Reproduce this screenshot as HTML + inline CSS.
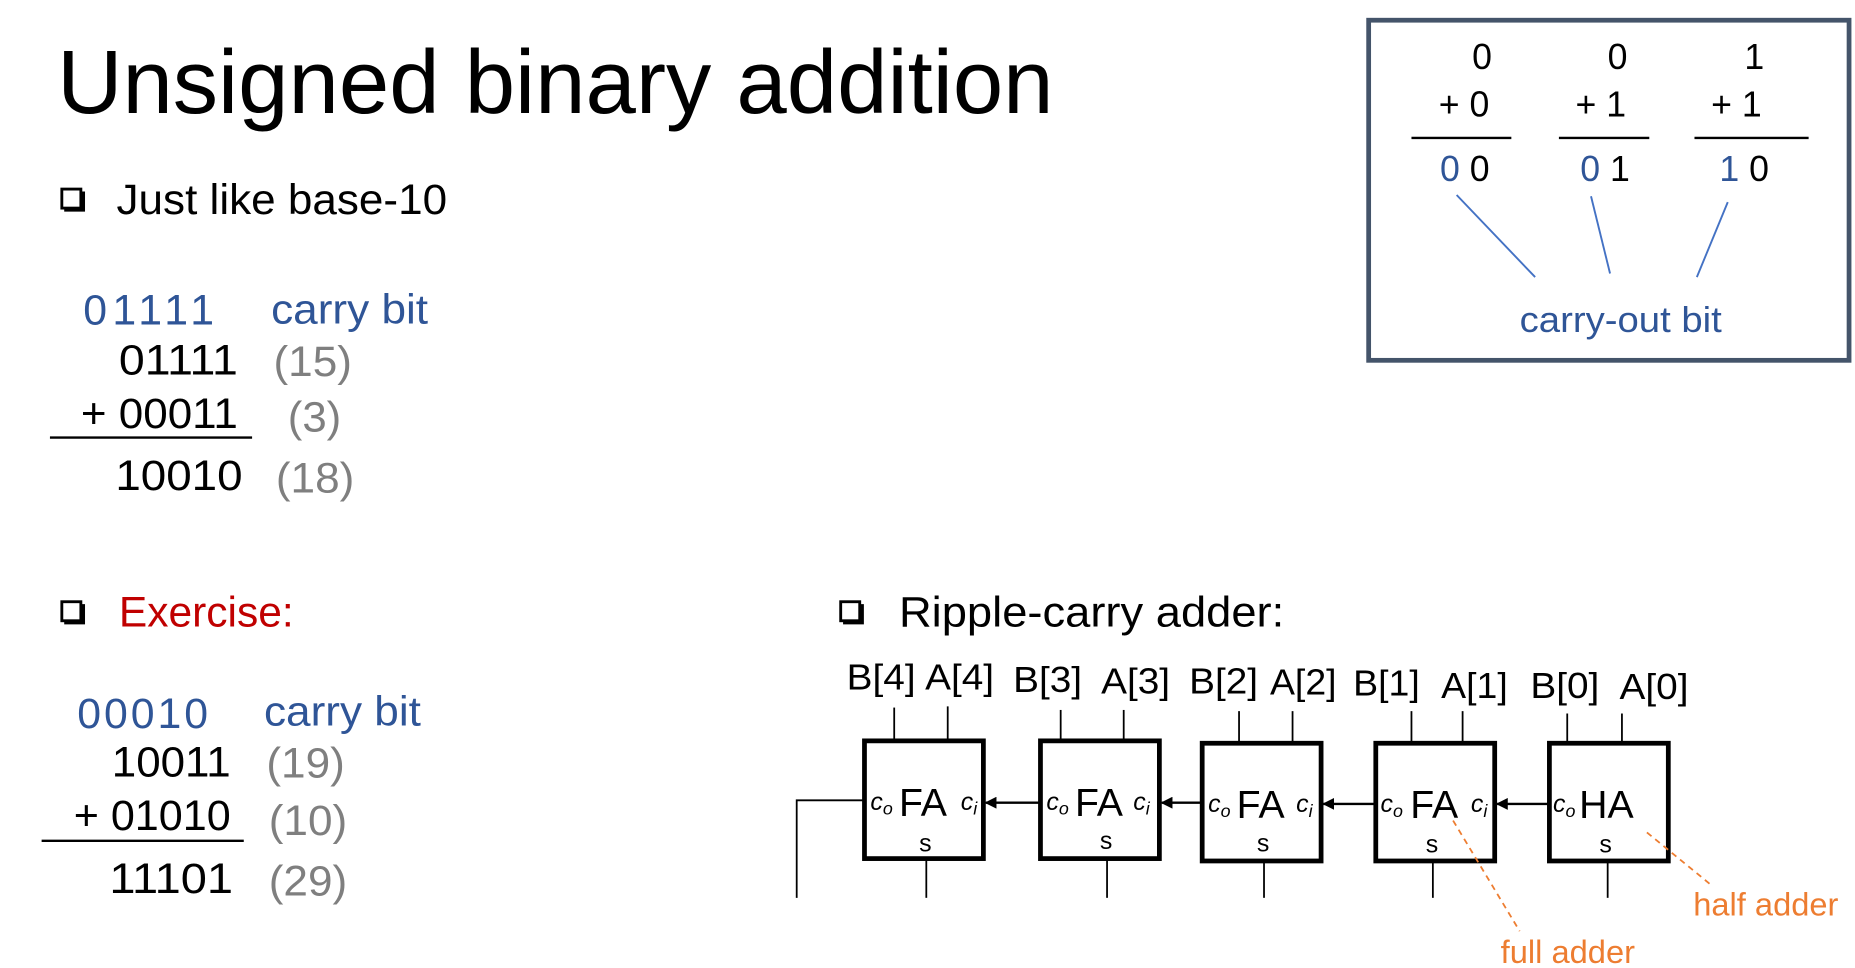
<!DOCTYPE html>
<html><head><meta charset="utf-8"><style>
html,body{margin:0;padding:0;background:#fff;width:1855px;height:968px;overflow:hidden}
svg{display:block}
text{font-family:"Liberation Sans",sans-serif}
.b{fill:#2f5597}.g{fill:#7f7f7f}.o{fill:#ed7d31}
</style></head><body>
<svg width="1855" height="968" viewBox="0 0 1560 814" preserveAspectRatio="none" xmlns="http://www.w3.org/2000/svg">
<defs>
<g id="bul"><rect x="1" y="1" width="16" height="16" fill="none" stroke="#000" stroke-width="2.4"/><path d="M3 18.5H19V3" fill="none" stroke="#000" stroke-width="3"/></g>
<marker id="ar" markerWidth="10" markerHeight="10" refX="9" refY="5" orient="auto" markerUnits="userSpaceOnUse"><path d="M0,0L10,5L0,10z" fill="#000"/></marker>
</defs>
<text x="48" y="95" font-size="76" textLength="838" lengthAdjust="spacingAndGlyphs">Unsigned binary addition</text>

<use href="#bul" x="51" y="158"/>
<text x="98" y="180" font-size="36" textLength="278" lengthAdjust="spacingAndGlyphs">Just like base-10</text>
<text x="70" y="273" font-size="36" class="b" textLength="110" lengthAdjust="spacing">01111</text>
<text x="228" y="272" font-size="35" class="b" textLength="132" lengthAdjust="spacingAndGlyphs">carry bit</text>
<text x="100" y="315" font-size="36" textLength="100" lengthAdjust="spacingAndGlyphs">01111</text>
<text x="230" y="316" font-size="36" class="g" textLength="66" lengthAdjust="spacingAndGlyphs">(15)</text>
<text x="68" y="360" font-size="36" textLength="132" lengthAdjust="spacingAndGlyphs">+ 00011</text>
<text x="242" y="363" font-size="36" class="g" textLength="45" lengthAdjust="spacingAndGlyphs">(3)</text>
<line x1="42" y1="368" x2="212" y2="368" stroke="#000" stroke-width="2"/>
<text x="97" y="412" font-size="36" textLength="107" lengthAdjust="spacingAndGlyphs">10010</text>
<text x="232" y="414" font-size="36" class="g" textLength="66" lengthAdjust="spacingAndGlyphs">(18)</text>

<use href="#bul" x="51" y="505"/>
<text x="100" y="527" font-size="36" fill="#c00000" textLength="147" lengthAdjust="spacingAndGlyphs">Exercise:</text>
<text x="65" y="612" font-size="36" class="b" textLength="110" lengthAdjust="spacing">00010</text>
<text x="222" y="610" font-size="35" class="b" textLength="132" lengthAdjust="spacingAndGlyphs">carry bit</text>
<text x="94" y="653" font-size="36" textLength="100" lengthAdjust="spacingAndGlyphs">10011</text>
<text x="224" y="654" font-size="36" class="g" textLength="66" lengthAdjust="spacingAndGlyphs">(19)</text>
<text x="62" y="698" font-size="36" textLength="132" lengthAdjust="spacingAndGlyphs">+ 01010</text>
<text x="226" y="702" font-size="36" class="g" textLength="66" lengthAdjust="spacingAndGlyphs">(10)</text>
<line x1="35" y1="707" x2="205" y2="707" stroke="#000" stroke-width="2"/>
<text x="92" y="751" font-size="36" textLength="104" lengthAdjust="spacingAndGlyphs">11101</text>
<text x="226" y="753" font-size="36" class="g" textLength="66" lengthAdjust="spacingAndGlyphs">(29)</text>

<use href="#bul" x="706" y="505"/>
<text x="756" y="527" font-size="36" textLength="324" lengthAdjust="spacingAndGlyphs">Ripple-carry adder:</text>

<g font-size="30">
<text x="712" y="580" textLength="58" lengthAdjust="spacingAndGlyphs">B[4]</text>
<text x="778" y="580" textLength="58" lengthAdjust="spacingAndGlyphs">A[4]</text>
<text x="852" y="582" textLength="58" lengthAdjust="spacingAndGlyphs">B[3]</text>
<text x="926" y="583" textLength="58" lengthAdjust="spacingAndGlyphs">A[3]</text>
<text x="1000" y="583" textLength="58" lengthAdjust="spacingAndGlyphs">B[2]</text>
<text x="1068" y="584" textLength="56" lengthAdjust="spacingAndGlyphs">A[2]</text>
<text x="1138" y="585" textLength="56" lengthAdjust="spacingAndGlyphs">B[1]</text>
<text x="1212" y="587" textLength="56" lengthAdjust="spacingAndGlyphs">A[1]</text>
<text x="1287" y="587" textLength="58" lengthAdjust="spacingAndGlyphs">B[0]</text>
<text x="1362" y="588" textLength="58" lengthAdjust="spacingAndGlyphs">A[0]</text>
</g>
<g stroke="#000" stroke-width="1.5">
<line x1="752" y1="595" x2="752" y2="622"/><line x1="797" y1="594" x2="797" y2="622"/>
<line x1="892" y1="597" x2="892" y2="622"/><line x1="945" y1="597" x2="945" y2="622"/>
<line x1="1042" y1="598" x2="1042" y2="624"/><line x1="1087" y1="598" x2="1087" y2="624"/>
<line x1="1187" y1="598" x2="1187" y2="624"/><line x1="1230" y1="598" x2="1230" y2="624"/>
<line x1="1318" y1="600" x2="1318" y2="624"/><line x1="1364" y1="600" x2="1364" y2="624"/>
<line x1="779" y1="722" x2="779" y2="755"/><line x1="931" y1="722" x2="931" y2="755"/>
<line x1="1063" y1="724" x2="1063" y2="755"/><line x1="1205" y1="724" x2="1205" y2="755"/>
<line x1="1352" y1="724" x2="1352" y2="755"/>
<polyline points="726,673 670,673 670,755" fill="none"/>
</g>
<g fill="none" stroke="#000" stroke-width="4">
<rect x="727" y="623" width="100" height="99"/>
<rect x="875" y="623" width="100" height="99"/>
<rect x="1011" y="625" width="100" height="99"/>
<rect x="1157" y="625" width="100" height="99"/>
<rect x="1303" y="625" width="100" height="99"/>
</g>
<g stroke="#000" stroke-width="2" marker-end="url(#ar)">
<line x1="875" y1="675" x2="829" y2="675"/>
<line x1="1011" y1="675" x2="977" y2="675"/>
<line x1="1157" y1="676" x2="1113" y2="676"/>
<line x1="1303" y1="676" x2="1259" y2="676"/>
</g>
<g font-size="33">
<text x="756" y="686">FA</text><text x="904" y="686">FA</text><text x="1040" y="688">FA</text><text x="1186" y="688">FA</text><text x="1328" y="688">HA</text>
</g>
<g font-family="Liberation Serif" font-size="21" font-style="italic">
<text x="732" y="681">c<tspan font-size="15" dy="4">o</tspan></text><text x="808" y="681">c<tspan font-size="15" dy="4">i</tspan></text>
<text x="880" y="681">c<tspan font-size="15" dy="4">o</tspan></text><text x="953" y="681">c<tspan font-size="15" dy="4">i</tspan></text>
<text x="1016" y="683">c<tspan font-size="15" dy="4">o</tspan></text><text x="1090" y="683">c<tspan font-size="15" dy="4">i</tspan></text>
<text x="1161" y="683">c<tspan font-size="15" dy="4">o</tspan></text><text x="1237" y="683">c<tspan font-size="15" dy="4">i</tspan></text>
<text x="1306" y="683">c<tspan font-size="15" dy="4">o</tspan></text>
</g>
<g font-size="21"><text x="773" y="716">s</text><text x="925" y="714">s</text><text x="1057" y="716">s</text><text x="1199" y="717">s</text><text x="1345" y="717">s</text></g>
<g stroke="#ed7d31" stroke-width="1.5" stroke-dasharray="5,4" fill="none">
<line x1="1222" y1="690" x2="1278" y2="783"/>
<line x1="1385" y1="700" x2="1440" y2="745"/>
</g>
<text x="1262" y="810" font-size="27" class="o" textLength="113" lengthAdjust="spacingAndGlyphs">full adder</text>
<text x="1424" y="770" font-size="27" class="o" textLength="122" lengthAdjust="spacingAndGlyphs">half adder</text>

<rect x="1151" y="17" width="404" height="286" fill="none" stroke="#44546a" stroke-width="4"/>
<g font-size="30">
<text x="1238" y="58">0</text><text x="1352" y="58">0</text><text x="1467" y="58">1</text>
<text x="1210" y="98">+ 0</text><text x="1325" y="98">+ 1</text><text x="1439" y="98">+ 1</text>
<text x="1211" y="152"><tspan class="b">0</tspan> 0</text>
<text x="1329" y="152"><tspan class="b">0</tspan> 1</text>
<text x="1446" y="152"><tspan class="b">1</tspan> 0</text>
</g>
<g stroke="#000" stroke-width="2">
<line x1="1187" y1="116" x2="1271" y2="116"/><line x1="1311" y1="116" x2="1387" y2="116"/><line x1="1425" y1="116" x2="1521" y2="116"/>
</g>
<g stroke="#4472c4" stroke-width="1.6">
<line x1="1225" y1="164" x2="1291" y2="233"/><line x1="1338" y1="165" x2="1354" y2="230"/><line x1="1453" y1="170" x2="1427" y2="233"/>
</g>
<text x="1278" y="279" font-size="30" class="b" textLength="170" lengthAdjust="spacingAndGlyphs">carry-out bit</text>
</svg>
</body></html>
